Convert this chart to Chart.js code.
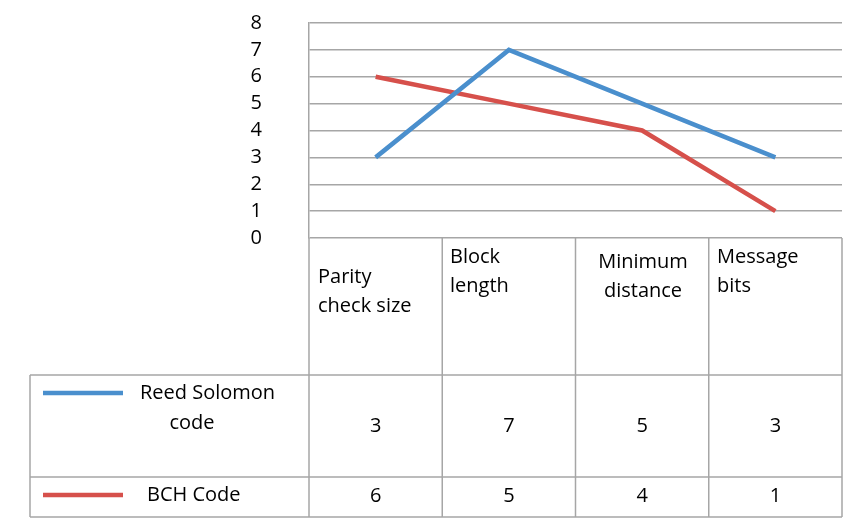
<!DOCTYPE html>
<html>
<head>
<meta charset="utf-8">
<script src="https://cdn.jsdelivr.net/npm/chart.js@4"></script>
<style>
  html, body { margin: 0; padding: 0; background: #fff; }
  #wrap { width: 848px; height: 522px; }
</style>
</head>
<body>
<div id="wrap"><canvas id="chart"></canvas></div>
<script>
// data
const categories = [["Parity", "check size"], ["Block", "length"], ["Minimum", "distance"], ["Message", "bits"]];
const seriesNames = [["Reed Solomon", "code"], ["BCH Code"]];
const reedSolomon = [3, 7, 5, 3];
const bch = [6, 5, 4, 1];
const yTicks = [0, 1, 2, 3, 4, 5, 6, 7, 8];

const gridColor = '#a6a6a6';
const font = '"Open Sans", Lato, sans-serif';

// data table drawn under the plot, Excel style
const dataTable = {
  id: 'dataTable',
  afterDraw(chart) {
    const ctx = chart.ctx;
    const x = chart.scales.x;
    const area = chart.chartArea;
    const step = x.getPixelForValue(1) - x.getPixelForValue(0);
    const left = 30, top = area.bottom, row1 = 375, row2 = 477, bottom = 517;

    ctx.save();
    ctx.strokeStyle = gridColor;
    ctx.lineWidth = 1.5;
    ctx.beginPath();
    // horizontal lines
    [row1, row2, bottom].forEach(y => { ctx.moveTo(left, y); ctx.lineTo(area.right, y); });
    // vertical lines
    for (let i = 0; i <= categories.length; i++) {
      const xx = area.left + i * step;
      ctx.moveTo(xx, top); ctx.lineTo(xx, bottom);
    }
    ctx.moveTo(left, row1); ctx.lineTo(left, bottom);
    ctx.stroke();

    ctx.fillStyle = '#000';
    ctx.font = '20px ' + font;
    ctx.textBaseline = 'middle';

    // header labels
    const headPos = [[318, 277, 'left'], [450, 257, 'left'], [643, 262, 'center'], [717, 257, 'left']];
    categories.forEach((lines, i) => {
      const [hx, hy, al] = headPos[i];
      ctx.textAlign = al;
      lines.forEach((t, j) => ctx.fillText(t, hx, hy + j * 29));
    });

    // legend column
    const sets = chart.data.datasets;
    const rowY = [393, 495];
    sets.forEach((ds, k) => {
      ctx.strokeStyle = ds.borderColor;
      ctx.lineWidth = 4.5;
      ctx.beginPath();
      ctx.moveTo(43, rowY[k]); ctx.lineTo(123, rowY[k]);
      ctx.stroke();
    });
    ctx.textAlign = 'left';
    ctx.fillText(seriesNames[0][0], 140, 393);
    ctx.textAlign = 'center';
    ctx.fillText(seriesNames[0][1], 192, 423);
    ctx.textAlign = 'left';
    ctx.fillText(seriesNames[1][0], 147, 495);

    // values
    ctx.textAlign = 'center';
    const valY = [426, 496];
    sets.forEach((ds, k) => {
      ds.data.forEach((v, i) => ctx.fillText(String(v), x.getPixelForValue(i), valY[k]));
    });
    ctx.restore();
  }
};

new Chart(document.getElementById('chart'), {
  type: 'line',
  data: {
    labels: categories.map(c => c.join(' ')),
    datasets: [
      { label: seriesNames[0].join(' '), data: reedSolomon, borderColor: '#4a8fcd', borderWidth: 4.5, pointRadius: 0, tension: 0 },
      { label: seriesNames[1].join(' '), data: bch, borderColor: '#d6504b', borderWidth: 4.5, pointRadius: 0, tension: 0 }
    ]
  },
  options: {
    responsive: true,
    maintainAspectRatio: false,
    animation: false,
    layout: { padding: { top: 23, right: 6, bottom: 284, left: 0 } },
    plugins: { legend: { display: false }, tooltip: { enabled: false } },
    scales: {
      x: { display: false, offset: true },
      y: {
        min: 0, max: 8,
        afterFit: (s) => { s.width = 309; s.paddingTop = 0; s.paddingBottom = 0; },
        afterBuildTicks: (s) => { s.ticks = yTicks.map(v => ({ value: v })); },
        ticks: { autoSkip: false, padding: 47, color: '#000', font: { family: font, size: 20 } },
        grid: { color: gridColor, lineWidth: 1.5, drawTicks: false },
        border: { color: gridColor, width: 1.5 }
      }
    }
  },
  plugins: [dataTable]
});
</script>
</body>
</html>
